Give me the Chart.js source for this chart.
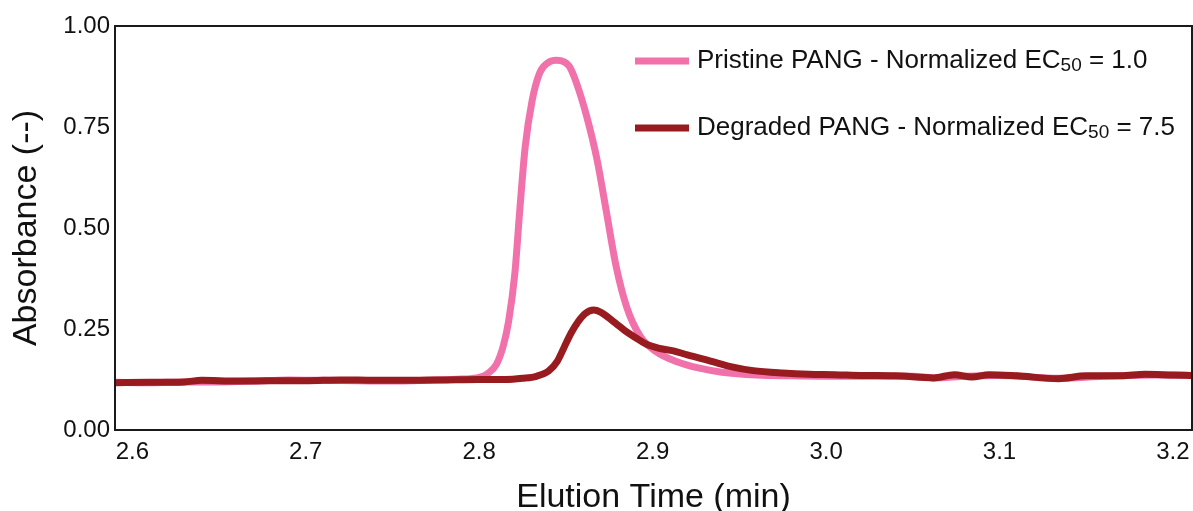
<!DOCTYPE html>
<html>
<head>
<meta charset="utf-8">
<script src="https://cdn.jsdelivr.net/npm/chart.js@4.4.1/dist/chart.umd.min.js"></script>
<style>
  body { margin: 0; background: #fff; }
  #wrap { width: 1193px; height: 511px; }
</style>
</head>
<body>
<div id="wrap"><canvas id="chart"></canvas></div>
<script>
// elution traces (time in min, absorbance)
const pristineTime = [2.590, 2.610, 2.630, 2.650, 2.670, 2.690, 2.710, 2.730, 2.750, 2.770, 2.790, 2.800,
  2.805, 2.810, 2.814, 2.817, 2.8205, 2.8235, 2.8265, 2.8305, 2.835, 2.840, 2.8445, 2.849, 2.852, 2.856,
  2.862, 2.868, 2.8735, 2.879, 2.885, 2.893, 2.902, 2.914, 2.927, 2.940, 2.960, 2.980, 3.000, 3.020,
  3.050, 3.062, 3.080, 3.100, 3.134, 3.160, 3.190, 3.211];
const pristineAbs = [0.118, 0.117, 0.119, 0.119, 0.121, 0.124, 0.123, 0.122, 0.121, 0.123, 0.126, 0.130,
  0.140, 0.163, 0.210, 0.270, 0.385, 0.550, 0.700, 0.815, 0.885, 0.910, 0.915, 0.911, 0.900, 0.860,
  0.776, 0.668, 0.536, 0.404, 0.305, 0.231, 0.194, 0.169, 0.153, 0.143, 0.136, 0.134, 0.133, 0.133,
  0.133, 0.129, 0.133, 0.135, 0.128, 0.133, 0.136, 0.135];

const degradedTime = [2.590, 2.610, 2.630, 2.640, 2.660, 2.680, 2.700, 2.720, 2.740, 2.760, 2.780, 2.800,
  2.815, 2.825, 2.833, 2.840, 2.845, 2.849, 2.853, 2.857, 2.861, 2.866, 2.870, 2.874, 2.879, 2.884,
  2.890, 2.896, 2.904, 2.912, 2.920, 2.934, 2.945, 2.958, 2.975, 2.990, 3.005, 3.020, 3.040, 3.062,
  3.074, 3.084, 3.094, 3.110, 3.134, 3.150, 3.170, 3.184, 3.200, 3.211];
const degradedAbs = [0.117, 0.118, 0.119, 0.123, 0.121, 0.122, 0.122, 0.124, 0.123, 0.123, 0.124, 0.125,
  0.125, 0.128, 0.133, 0.146, 0.170, 0.205, 0.240, 0.268, 0.288, 0.297, 0.292, 0.280, 0.263, 0.246,
  0.229, 0.213, 0.202, 0.196, 0.186, 0.170, 0.157, 0.147, 0.141, 0.138, 0.137, 0.135, 0.134, 0.129,
  0.137, 0.131, 0.137, 0.134, 0.127, 0.134, 0.134, 0.138, 0.136, 0.135];

const xTicks = [2.6, 2.7, 2.8, 2.9, 3.0, 3.1, 3.2];
const xTickLabels = ['2.6', '2.7', '2.8', '2.9', '3.0', '3.1', '3.2'];
const yTicks = [0, 0.25, 0.5, 0.75, 1.0];
const yTickLabels = ['0.00', '0.25', '0.50', '0.75', '1.00'];

const seriesLabels = ['Pristine PANG - Normalized EC50 = 1.0', 'Degraded PANG - Normalized EC50 = 7.5'];
const seriesColors = ['#F171AB', '#971B1F'];

const toPoints = (xs, ys) => xs.map((x, i) => ({ x: x, y: ys[i] }));

// box around the plot area
const frame = {
  id: 'frame',
  afterDatasetsDraw(chart) {
    const a = chart.chartArea, ctx = chart.ctx;
    ctx.save();
    ctx.strokeStyle = '#1a1a1a';
    ctx.lineWidth = 2;
    ctx.strokeRect(a.left, a.top, a.right - a.left, a.bottom - a.top);
    ctx.restore();
  }
};

// legend with the "50" set as subscript
const subLegend = {
  id: 'subLegend',
  afterDraw(chart) {
    const ctx = chart.ctx;
    const rows = [61, 128];
    ctx.save();
    chart.data.datasets.forEach((ds, i) => {
      const y = rows[i];
      ctx.strokeStyle = ds.borderColor;
      ctx.lineWidth = 7;
      ctx.beginPath();
      ctx.moveTo(635, y);
      ctx.lineTo(689, y);
      ctx.stroke();

      const parts = ds.label.split('EC50');
      let x = 697;
      ctx.fillStyle = '#111';
      ctx.textBaseline = 'middle';
      ctx.font = '26px "Liberation Sans", Arial, sans-serif';
      const first = parts[0] + 'EC';
      ctx.fillText(first, x, y);
      x += ctx.measureText(first).width;
      ctx.font = '19px "Liberation Sans", Arial, sans-serif';
      ctx.fillText('50', x, y + 5);
      x += ctx.measureText('50').width;
      ctx.font = '26px "Liberation Sans", Arial, sans-serif';
      ctx.fillText(parts[1], x, y);
    });
    ctx.restore();
  }
};

new Chart(document.getElementById('chart'), {
  type: 'line',
  data: {
    datasets: [
      {
        label: seriesLabels[0],
        data: toPoints(pristineTime, pristineAbs),
        borderColor: seriesColors[0],
        borderWidth: 7,
        pointRadius: 0,
        cubicInterpolationMode: 'monotone',
        order: 2
      },
      {
        label: seriesLabels[1],
        data: toPoints(degradedTime, degradedAbs),
        borderColor: seriesColors[1],
        borderWidth: 7,
        pointRadius: 0,
        cubicInterpolationMode: 'monotone',
        order: 1
      }
    ]
  },
  options: {
    responsive: true,
    maintainAspectRatio: false,
    animation: false,
    layout: { padding: { top: 26, right: 1, left: 0, bottom: 0 } },
    plugins: { legend: { display: false }, tooltip: { enabled: false } },
    scales: {
      x: {
        type: 'linear',
        min: 2.59,
        max: 3.211,
        grid: { display: false, drawTicks: false },
        border: { display: false },
        afterBuildTicks: (s) => { s.ticks = xTicks.map(v => ({ value: v })); },
        afterFit: (s) => { s.height = 81; s.paddingRight = 0; s.paddingLeft = 0; },
        ticks: {
          padding: 8,
          color: '#111',
          font: { family: '"Liberation Sans", Arial, sans-serif', size: 24 },
          callback: (v) => xTickLabels[xTicks.findIndex(t => Math.abs(t - v) < 1e-6)]
        },
        title: {
          display: true,
          text: 'Elution Time (min)',
          color: '#111',
          padding: 0,
          font: { family: '"Liberation Sans", Arial, sans-serif', size: 34, lineHeight: 0.8 }
        }
      },
      y: {
        min: 0,
        max: 1,
        grid: { display: false, drawTicks: false },
        border: { display: false },
        afterBuildTicks: (s) => { s.ticks = yTicks.map(v => ({ value: v })); },
        afterFit: (s) => { s.width = 115; s.paddingTop = 0; s.paddingBottom = 0; },
        ticks: {
          padding: 5,
          color: '#111',
          font: { family: '"Liberation Sans", Arial, sans-serif', size: 24 },
          callback: (v) => yTickLabels[yTicks.findIndex(t => Math.abs(t - v) < 1e-6)]
        },
        title: {
          display: true,
          text: 'Absorbance (--)',
          color: '#111',
          padding: { top: 6, bottom: 0 },
          font: { family: '"Liberation Sans", Arial, sans-serif', size: 34 }
        }
      }
    }
  },
  plugins: [frame, subLegend]
});
</script>
</body>
</html>
